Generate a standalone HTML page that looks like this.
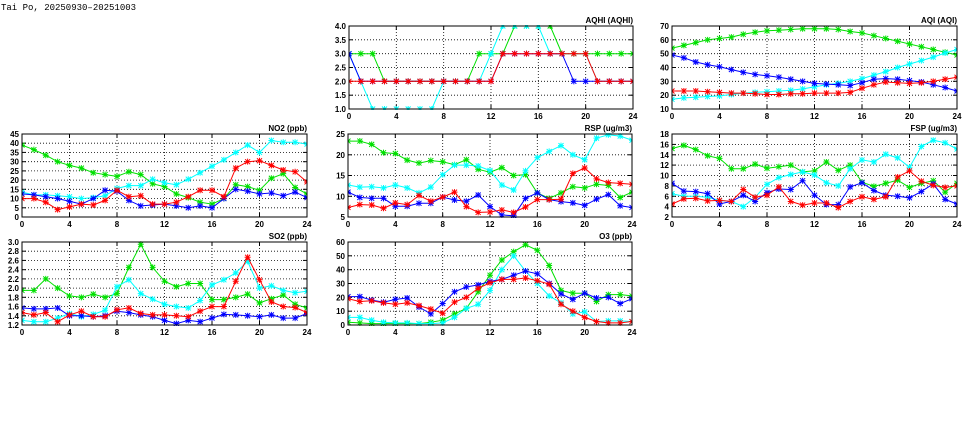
<!DOCTYPE html>
<html><head><meta charset="utf-8">
<style>
html,body{margin:0;padding:0;background:#fff;}
svg{display:block;}
text{font-family:"Liberation Sans",sans-serif;font-weight:bold;font-size:8px;fill:#000;}
</style></head>
<body>
<svg id="s" width="975" height="447" xmlns="http://www.w3.org/2000/svg">
<text x="1" y="10" style="font-family:'Liberation Mono',monospace;font-size:9px;font-weight:normal">Tai Po, 20250930–20251003</text>
</svg>
<script>
const C={g:"#00e000",c:"#00ffff",b:"#0000ff",r:"#ff0000"};
const P=[
{t:"AQHI (AQHI)",x0:349,x1:633,y0:26,y1:109,lo:1,hi:4,st:0.5,d:1,
 s:{g:[3,3,3,2,2,2,2,2,2,2,2,3,3,3,4,4,4,4,3,3,3,3,3,3,3],
 c:[3,2,1,1,1,1,1,1,2,2,2,2,3,4,4,4,4,3,3,3,3,2,2,2,2],
 b:[3,2,2,2,2,2,2,2,2,2,2,2,2,3,3,3,3,3,3,2,2,2,2,2,2],
 r:[2,2,2,2,2,2,2,2,2,2,2,2,2,3,3,3,3,3,3,3,3,2,2,2,2]}},
{t:"AQI (AQI)",x0:672,x1:957,y0:26,y1:109,lo:10,hi:70,st:10,d:0,
 s:{g:[54,56,58,60,61,62,64,65.5,66.5,67,67.5,68,68,68,67.5,66,65,63,61,59,57,55,53,51,49],
 c:[17,18,18.5,19,19.5,20.5,21.5,22,22.5,23,23.5,24.5,26,27.5,28.5,30,32,34.5,37,40,42.5,45,47.5,50.5,53],
 b:[49,47,44,42,40.5,38.5,36.5,35,34,33,31.5,30,28.5,28,27.5,27,29,31.5,32,31.5,30.5,29.5,27.5,25.5,23],
 r:[23,23,23,22.5,22,21.5,21.5,21,20.5,20.5,21,21,21.5,21.5,21.5,22,25,27.5,29.5,29,28.5,29,30,31.5,33]}},
{t:"NO2 (ppb)",x0:22,x1:307,y0:134,y1:217,lo:0,hi:45,st:5,d:0,
 s:{g:[39,36.5,33.5,30,28,26.5,24,23,22,24.5,23,18,16.5,12.5,10.5,8,7,10,17.5,16.5,14.5,21,23.5,16,12.5],
 c:[13.5,12,12,11.5,11,10,10.5,11.5,15.5,17,17,20.5,18.5,17.5,20.5,24,27.5,31,35,39,35,41.5,40.5,40.5,39.5],
 b:[12.5,12,11,10,8.5,7,10,14.5,14,9,6,6.5,7,6,5,6,5,10,15,14,12.5,13,11.5,13.5,10.5],
 r:[10,10,8,4,5.5,7,6.5,9,14.5,11,11.5,7,7,8,11,14.5,14.5,11,26.5,30,30.5,28,25.5,24.5,19]}},
{t:"RSP (ug/m3)",x0:348,x1:632,y0:134,y1:217,lo:5,hi:25,st:5,d:0,
 s:{g:[23.3,23.3,22.5,20.5,20.3,18.7,18,18.6,18.3,17.6,18.8,16.5,15.8,16.9,15,15.2,10.8,9.5,10.8,12.3,12,12.9,12.6,9.7,11],
 c:[12.7,12.2,12.3,12,12.7,12,10.8,12.2,15.2,17.5,17.5,17.3,16.2,12.7,11.5,16.1,19.3,20.8,22.2,20,18.8,24,24.8,24.5,23.5],
 b:[11,9.7,9.5,9.5,7.6,7.6,8.3,8.3,9.8,9.1,8.8,10.3,7.5,5.5,5.3,9.5,10.8,9.2,8.7,8.4,7.8,9.3,10.4,7.7,7.3],
 r:[7.3,8,7.9,7.1,8.4,8,10.2,8.8,9.8,11,7.5,6.1,6.2,6.7,6.1,7.4,9.2,9.2,9.3,15.5,16.8,14.2,13.3,13.1,12.9]}},
{t:"FSP (ug/m3)",x0:672,x1:957,y0:134,y1:217,lo:2,hi:18,st:2,d:0,
 s:{g:[15.2,15.8,15,13.8,13.3,11.3,11.3,12.2,11.4,11.7,12,10.7,10.9,12.6,11,12,8.7,7.9,8.5,9.1,7.7,8.5,9,6.8,8.5],
 c:[6.5,6,6,5.8,5.2,5,4,5.8,8.3,9.6,10.2,10.7,10.1,8.6,8,11.3,13,12.6,14.1,13.4,11.6,15.6,16.8,16.3,15.1],
 b:[8.5,7,6.9,6.5,4.5,5,6.2,5,6.7,7.4,7.3,9,6.2,4.4,4.4,7.8,8.6,7.1,6.2,6,5.7,6.9,8.4,5.4,4.5],
 r:[4.5,5.5,5.6,5.1,5.2,5,7.3,5.8,6.2,7.8,5,4.3,4.7,4.7,3.8,5,5.9,5.4,5.9,9.7,10.9,8.9,8.1,7.7,8]}},
{t:"SO2 (ppb)",x0:22,x1:307,y0:242,y1:325,lo:1.2,hi:3.0,st:0.2,d:1,
 s:{g:[1.95,1.95,2.2,2,1.83,1.8,1.87,1.8,1.88,2.45,2.95,2.45,2.15,2.03,2.1,2.1,1.75,1.75,1.8,1.87,1.68,1.77,1.85,1.65,1.57],
 c:[1.3,1.27,1.27,1.35,1.45,1.38,1.43,1.52,2.03,2.18,1.88,1.76,1.65,1.6,1.57,1.73,2.07,2.18,2.33,2.58,2.0,2.05,1.95,1.9,1.93],
 b:[1.57,1.55,1.55,1.57,1.4,1.4,1.38,1.4,1.5,1.47,1.42,1.38,1.3,1.23,1.3,1.27,1.35,1.43,1.42,1.4,1.38,1.42,1.35,1.35,1.45],
 r:[1.47,1.42,1.47,1.27,1.42,1.5,1.38,1.38,1.53,1.57,1.45,1.42,1.42,1.4,1.38,1.5,1.6,1.6,2.15,2.67,2.18,1.7,1.6,1.58,1.47]}},
{t:"O3 (ppb)",x0:348,x1:632,y0:242,y1:325,lo:0,hi:60,st:10,d:0,
 s:{g:[2,1.5,1,1,1,1,1,2,3.5,8,12,24,36,47,53,58,54,43,25,23,23,17,22,22,21],
 c:[5.5,5.5,3.5,2,1.5,1.5,1,1,1.5,5.5,12,15,25,40,50,39,30,21,16,8,9.5,2.5,3,3,2.5],
 b:[20.5,20.5,18,16.5,18.5,19.5,13,8,15.5,24,27.5,29,31.5,33,36,39,37,30,22.5,18.5,23,19.5,20,15.5,19],
 r:[19,17,17.5,16,15,16,14,11.5,8.5,16.5,20,26.5,30.5,33,33,34,32,29.5,15,10,5.5,2.5,1.5,1.5,2.5]}}
];
let h="";
for(const p of P){
 const X=i=>p.x0+(p.x1-p.x0)*i/24, Y=v=>p.y1-(p.y1-p.y0)*(v-p.lo)/(p.hi-p.lo);
 h+=`<svg x="0" y="0" overflow="hidden"><defs><clipPath id="c${p.x0}${p.y0}"><rect x="${p.x0}" y="${p.y0-1}" width="${p.x1-p.x0}" height="${p.y1-p.y0+2}"/></clipPath></defs></svg>`;
 const n=Math.round((p.hi-p.lo)/p.st);
 for(let k=0;k<=n;k++){const v=p.lo+k*p.st,y=Y(v).toFixed(1);
  if(k>0&&k<n)h+=`<line x1="${p.x0}" x2="${p.x1}" y1="${y}" y2="${y}" stroke="#000" stroke-width="0.8" stroke-dasharray="1,2"/>`;
  h+=`<line x1="${p.x0}" x2="${p.x0+4}" y1="${y}" y2="${y}" stroke="#000"/><line x1="${p.x1-4}" x2="${p.x1}" y1="${y}" y2="${y}" stroke="#000"/>`;
  h+=`<text x="${p.x0-3}" y="${+y+3}" text-anchor="end">${v.toFixed(p.d)}</text>`;}
 for(let i=0;i<=24;i+=4){const x=X(i).toFixed(1);
  if(i>0&&i<24)h+=`<line x1="${x}" x2="${x}" y1="${p.y0}" y2="${p.y1}" stroke="#000" stroke-width="0.8" stroke-dasharray="1,2"/>`;
  h+=`<line x1="${x}" x2="${x}" y1="${p.y1-4}" y2="${p.y1}" stroke="#000"/><line x1="${x}" x2="${x}" y1="${p.y0}" y2="${p.y0+4}" stroke="#000"/>`;
  h+=`<text x="${x}" y="${p.y1+10}" text-anchor="middle">${i}</text>`;}
 h+=`<text x="${p.x1}" y="${p.y0-3}" text-anchor="end">${p.t}</text>`;
 h+=`<g clip-path="url(#c${p.x0}${p.y0})">`;
 for(const k of ["g","c","b","r"]){const a=p.s[k];
  h+=`<polyline fill="none" stroke="${C[k]}" stroke-width="1" points="${a.map((v,i)=>X(i).toFixed(1)+","+Y(v).toFixed(1)).join(" ")}"/>`;
  let m="";a.forEach((v,i)=>{const x=X(i),y=Y(v);m+=`M${x-3} ${y}h6M${x} ${y-3}v6M${x-2.5} ${y-2.5}l5 5M${x-2.5} ${y+2.5}l5 -5`;});
  h+=`<path d="${m}" stroke="${C[k]}" stroke-width="1" fill="none"/>`;}
 h+=`</g><rect x="${p.x0}" y="${p.y0}" width="${p.x1-p.x0}" height="${p.y1-p.y0}" fill="none" stroke="#000" stroke-width="1"/>`;
}
document.getElementById("s").insertAdjacentHTML("beforeend",h);
</script>
</body></html>
